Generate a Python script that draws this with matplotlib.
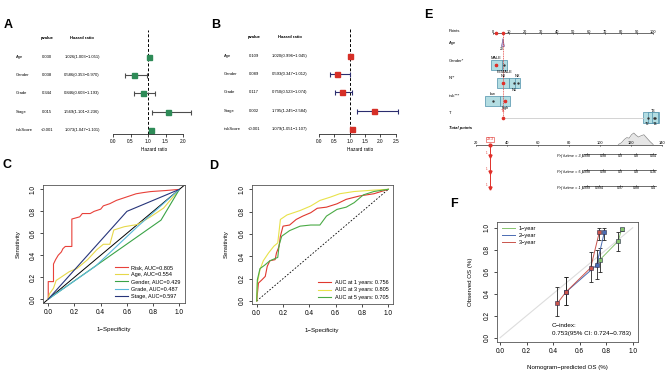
import numpy as np
import matplotlib
matplotlib.use('Agg')
import matplotlib.pyplot as plt
from matplotlib import transforms
from matplotlib.patches import Rectangle, Polygon
from matplotlib.ticker import FormatStrFormatter

plt.rcParams['font.family'] = ['Liberation Sans', 'DejaVu Sans']
plt.rcParams['axes.linewidth'] = 0.6

# ---------------- data ----------------
# A / B  forest plots (uni / multi cox)
forest_vars = ['Age', 'Gender', 'Grade', 'Stage', 'riskScore']
uni_p = ['0.030', '0.038', '0.344', '0.015', '<0.001']
uni_hr = [1.026, 0.586, 0.846, 1.569, 1.073]
uni_lo = [1.003, 0.353, 0.603, 1.101, 1.047]
uni_hi = [1.051, 0.970, 1.193, 2.236, 1.101]
multi_p = ['0.109', '0.089', '0.117', '0.002', '<0.001']
multi_hr = [1.020, 0.593, 0.750, 1.795, 1.079]
multi_lo = [0.996, 0.347, 0.523, 1.245, 1.051]
multi_hi = [1.045, 1.012, 1.074, 2.584, 1.107]
hr_ticks_a = [0.0, 0.5, 1.0, 1.5, 2.0]
hr_ticks_b = [0.0, 0.5, 1.0, 1.5, 2.0, 2.5]

# C  ROC of clinical features
risk_fpr = [0, 0, 0.04, 0.04, 0.056, 0.076, 0.10, 0.112, 0.13, 0.18, 0.18, 0.24, 0.26, 0.32, 0.35,
            0.40, 0.42, 0.47, 0.52, 0.57, 0.62, 0.67, 0.72, 0.78, 0.90, 1.0]
risk_tpr = [0, 0.16, 0.16, 0.32, 0.36, 0.40, 0.43, 0.46, 0.48, 0.48, 0.73, 0.75, 0.78, 0.78, 0.80,
            0.82, 0.85, 0.87, 0.90, 0.92, 0.94, 0.96, 0.97, 0.98, 0.99, 1.0]
age_fpr = [0, 0.01, 0.04, 0.06, 0.11, 0.16, 0.22, 0.30, 0.37, 0.42, 0.47, 0.50, 0.58, 0.68, 0.78, 0.88, 1.0]
age_tpr = [0, 0.05, 0.10, 0.17, 0.21, 0.25, 0.28, 0.36, 0.45, 0.50, 0.50, 0.63, 0.66, 0.68, 0.75, 0.83, 1.0]
gender_fpr = [0, 0.86, 1.0]
gender_tpr = [0, 0.72, 1.0]
grade_fpr = [0, 0.36, 0.68, 1.0]
grade_tpr = [0, 0.30, 0.66, 1.0]
stage_fpr = [0, 0.60, 1.0]
stage_tpr = [0, 0.80, 1.0]
roc_c_labels = ['Risk, AUC=0.805', 'Age, AUC=0.554', 'Gender, AUC=0.429',
                'Grade, AUC=0.487', 'Stage, AUC=0.597']

# D  time dependent ROC
y1_fpr = [0, 0.013, 0.04, 0.065, 0.08, 0.10, 0.14, 0.15, 0.17, 0.18, 0.20, 0.25, 0.30, 0.35, 0.41,
          0.46, 0.53, 0.61, 0.68, 0.78, 0.89, 1.0]
y1_tpr = [0, 0.16, 0.19, 0.22, 0.31, 0.36, 0.37, 0.43, 0.49, 0.58, 0.67, 0.68, 0.73, 0.76, 0.79,
          0.83, 0.84, 0.87, 0.91, 0.94, 0.96, 1.0]
y3_fpr = [0, 0.005, 0.025, 0.05, 0.09, 0.13, 0.16, 0.18, 0.23, 0.33, 0.41, 0.48, 0.56, 0.63, 0.74, 0.86, 1.0]
y3_tpr = [0, 0.16, 0.28, 0.36, 0.43, 0.49, 0.52, 0.73, 0.77, 0.81, 0.85, 0.90, 0.93, 0.96, 0.98, 0.99, 1.0]
y5_fpr = [0, 0.005, 0.025, 0.06, 0.10, 0.16, 0.17, 0.19, 0.25, 0.33, 0.41, 0.48, 0.53, 0.61, 0.68,
          0.74, 0.81, 0.89, 1.0]
y5_tpr = [0, 0.19, 0.29, 0.32, 0.36, 0.39, 0.50, 0.58, 0.63, 0.67, 0.68, 0.68, 0.76, 0.82, 0.84,
          0.88, 0.95, 0.98, 1.0]
roc_d_labels = ['AUC at 1 years: 0.756', 'AUC at 3 years: 0.805', 'AUC at 5 years: 0.705']

# E  nomogram
age_pt = 6.4
gender_lv = ['MALE', 'FEMALE']
gender_pts = [2.2, 7.2]
gender_share = [0.52, 0.25]
n_lv = ['N0', 'N1', 'NX']
n_pts = [6.6, 13.1, 15.5]
n_share = [0.58, 0.43, 0.20]
risk_lv = ['low', 'high']
risk_pts = [0.0, 7.7]
risk_share = [0.70, 0.50]
t_lv = ['T1', 'T2', 'T3', 'T4']
t_pts = [6.5, 96.5, 100.2, 101.2]
t_share = [0.0, 0.45, 0.55, 0.30]
total_pt = 29.3
dens_x = [112, 114, 116, 117.5, 119, 120.5, 122, 123.5, 125, 126.5, 128.5, 130.5, 132.5, 134.5]
dens_y = [0, 0.15, 0.45, 0.60, 0.55, 0.85, 1.0, 0.80, 0.65, 0.75, 0.85, 0.55, 0.25, 0]
pr_names = ['Pr( futime = 3 )', 'Pr( futime = 5 )', 'Pr( futime = 1 )']
pr_labels = [['0.998', '0.98', '0.9', '0.8', '0.04'],
             ['0.998', '0.98', '0.9', '0.8', '0.36'],
             ['0.999', '0.994', '0.97', '0.88', '0.4']]
pr_at = [[91.6, 102.3, 113.1, 123.4, 134.6],
         [91.6, 102.3, 113.1, 123.4, 134.6],
         [91.6, 99.5, 113.1, 123.4, 134.6]]

# F  calibration
cal1_x = [0.754, 0.891, 0.917]
cal1_y = [0.710, 0.879, 0.990]
cal1_lo = [0.60, 0.79, 0.97]
cal1_hi = [0.82, 0.96, 1.00]
cal2_x = [0.495, 0.728, 0.786]
cal2_y = [0.413, 0.660, 0.958]
cal2_lo = [0.30, 0.535, 0.89]
cal2_hi = [0.555, 0.80, 1.00]
cal3_x = [0.432, 0.495, 0.683, 0.748]
cal3_y = [0.313, 0.413, 0.636, 0.958]
cal3_lo = [0.20, 0.30, 0.51, 0.89]
cal3_hi = [0.465, 0.555, 0.78, 1.00]

# ---------------- figure ----------------
W, H = 668, 373
fig = plt.figure(figsize=(W / 100, H / 100), dpi=100)


def add_px(x0, y0, x1, y1):
    return fig.add_axes([x0 / W, 1 - y1 / H, (x1 - x0) / W, (y1 - y0) / H])


def letter(x, y, s):
    fig.text(x / W, 1 - y / H, s, ha='center', va='center', fontsize=9, fontweight='bold')


def forest(x0, xr, ppu, row0, y_top, y_axis, cols, pv, hr, lo, hi, ticks, sq_col, bar_col):
    step = 18.2
    ax = add_px(x0, y_top, xr, y_axis)
    ax.set_xlim(0, (xr - x0) / ppu)
    ax.set_ylim(-(y_axis - row0) / step, (row0 - y_top) / step)
    hr, lo, hi = np.array(hr), np.array(lo), np.array(hi)
    yy = -np.arange(len(hr))
    ax.axvline(1, color='black', ls=(0, (3, 2)), lw=0.7)
    ax.errorbar(hr, yy, xerr=[hr - lo, hi - hr], fmt='none', ecolor=bar_col,
                elinewidth=0.8, capsize=1.8, capthick=0.8)
    ax.plot(hr, yy, 's', color=sq_col, ms=3.6, ls='none')
    for s in ['top', 'right', 'left']:
        ax.spines[s].set_visible(False)
    ax.spines['bottom'].set_bounds(ticks[0], ticks[-1])
    ax.spines['bottom'].set_linewidth(0.5)
    ax.set_xticks(ticks)
    ax.set_xticklabels(['%.1f' % t for t in ticks])
    ax.tick_params(axis='x', labelsize=3.4, length=2, width=0.5, pad=1.5)
    ax.set_yticks([])
    ax.set_xlabel('Hazard ratio', fontsize=3.4, labelpad=2)
    ax.patch.set_alpha(0)
    tr = transforms.blended_transform_factory(fig.transFigure, ax.transData)
    hdr = 19 / step
    ax.text(cols[1] / W, hdr, 'pvalue', transform=tr, ha='center', va='center', fontsize=3, fontweight='bold')
    ax.text(cols[2] / W, hdr, 'Hazard ratio', transform=tr, ha='center', va='center', fontsize=3, fontweight='bold')
    for i, v in enumerate(forest_vars):
        ax.text(cols[0] / W, yy[i], v, transform=tr, ha='left', va='center', fontsize=3)
        ax.text(cols[1] / W, yy[i], pv[i], transform=tr, ha='center', va='center', fontsize=3)
        ax.text(cols[2] / W, yy[i], '%.3f(%.3f\u2212%.3f)' % (hr[i], lo[i], hi[i]),
                transform=tr, ha='center', va='center', fontsize=3)
    return ax


def r_axes(x0, y0, x1, y1, xlim, ylim):
    ax = add_px(x0, y0, x1, y1)
    ax.set_xlim(*xlim)
    ax.set_ylim(*ylim)
    ticks = np.arange(0, 1.01, 0.2)
    ax.set_xticks(ticks)
    ax.set_yticks(ticks)
    ax.xaxis.set_major_formatter(FormatStrFormatter('%.1f'))
    ax.yaxis.set_major_formatter(FormatStrFormatter('%.1f'))
    ax.tick_params(labelsize=4.7, length=2.5, width=0.5, pad=2, direction='out')
    ax.tick_params(axis='y', labelrotation=90)
    plt.setp(ax.get_yticklabels(), va='center')
    for s in ax.spines.values():
        s.set_color('#555555')
    return ax


# A
letter(8, 25, 'A')
forest(113, 196, 35.0, 57, 30, 134, (16, 47, 82), uni_p, uni_hr, uni_lo, uni_hi,
       hr_ticks_a, '#2e8b57', '#4d4d4d')
# B
letter(216, 25, 'B')
forest(319, 401, 30.7, 56, 29, 134, (224, 254, 290), multi_p, multi_hr, multi_lo, multi_hi,
       hr_ticks_b, '#d62f27', '#2b2d6e')

# C
letter(7, 165, 'C')
axc = r_axes(43, 185, 185, 303, (-0.04, 1.043), (-0.035, 1.04))
axc.axline((0, 0), (1, 1), color='black', lw=0.7)
c_cols = ['#e8413a', '#e6d84a', '#3aa346', '#5bb8dc', '#27357a']
for fx, ty, col, lab in zip([risk_fpr, age_fpr, gender_fpr, grade_fpr, stage_fpr],
                            [risk_tpr, age_tpr, gender_tpr, grade_tpr, stage_tpr],
                            c_cols, roc_c_labels):
    axc.plot(fx, ty, color=col, lw=0.8, label=lab)
axc.legend(loc='lower right', bbox_to_anchor=(1.0, 0.0), frameon=False, fontsize=4,
           handlelength=2.4, handletextpad=0.6, labelspacing=0.38, borderpad=0.3)
axc.set_xlabel('1\u2212Specificity', fontsize=4.4)
axc.set_ylabel('Sensitivity', fontsize=4.4)
axc.xaxis.set_label_coords(0.5, -0.2)
axc.yaxis.set_label_coords(-0.158, 0.5)

# D
letter(214, 166, 'D')
axd = r_axes(251.7, 184.7, 392.7, 304, (-0.038, 1.033), (-0.027, 1.041))
axd.plot([0, 1], [0, 1], color='black', lw=0.6, ls=(0, (2, 2)))
d_cols = ['#e0382e', '#e8e24a', '#4aaa45']
for fx, ty, col, lab in zip([y1_fpr, y3_fpr, y5_fpr], [y1_tpr, y3_tpr, y5_tpr], d_cols, roc_d_labels):
    axd.plot(fx, ty, color=col, lw=0.8, label=lab)
axd.legend(loc='lower right', bbox_to_anchor=(1.0, 0.0), frameon=False, fontsize=4,
           handlelength=2.4, handletextpad=0.6, labelspacing=0.38, borderpad=0.3)
axd.set_xlabel('1\u2212Specificity', fontsize=4.4)
axd.set_ylabel('Sensitivity', fontsize=4.4)
axd.xaxis.set_label_coords(0.5, -0.2)
axd.yaxis.set_label_coords(-0.165, 0.5)

# E  nomogram: upper scale in points, lower scale in total points
letter(428, 15, 'E')
fs_e = 3.0
axe = add_px(440, 20, 668, 195)
axe.set_xlim(-32.8, 109.2)
axe.set_ylim(195, 20)
axe.axis('off')
axt = add_px(440, 20, 668, 195)
axt.set_xlim(20 - 35.7 / 1.55, 140 + 6.3 / 1.55)
axt.set_ylim(195, 20)
axt.axis('off')
lab_tr = transforms.blended_transform_factory(fig.transFigure, axe.transData)
row_y = {'Points': 31.5, 'Age': 43, 'Gender*': 61, 'N**': 78, 'risk***': 96, 'T': 113}
for name, yv in row_y.items():
    axe.text(449 / W, yv, name, transform=lab_tr, ha='left', va='center', fontsize=fs_e)
axe.text(449 / W, 128, 'Total points', transform=lab_tr, ha='left', va='center',
         fontsize=fs_e, fontweight='bold', fontstyle='italic')

pts_ticks = np.arange(0, 101, 10)
axe.plot([0, 100], [33, 33], color='#333333', lw=0.5)
for t in pts_ticks:
    axe.plot([t, t], [33, 34.3], color='#333333', lw=0.4)
    axe.text(t, 32, '%d' % t, ha='center', va='center', fontsize=2.8)

# patient line and points on scale
axe.plot([6.4, 6.4], [33, 118], color='#e0302a', lw=0.5, ls=(0, (1.5, 1)))
for p in sorted(set([2.2, 6.6])):
    axe.plot(p, 33, 'o', color='#e0302a', ms=1.6)

# age violin
axe.add_patch(Polygon([[age_pt - 0.9, 46.5], [age_pt + 0.9, 46.5], [age_pt, 38.5]],
                      closed=True, fc='#c8b6e2', ec='#5b4a8a', lw=0.4))
axe.text(age_pt - 0.8, 49.3, '20', ha='center', va='center', fontsize=2.4)


def level_boxes(ypos, lv, pts, share, sel):
    for i, (l, p, s) in enumerate(zip(lv, pts, share)):
        w = s * 13
        if w > 0:
            axe.add_patch(Rectangle((p - w / 2, ypos - 5.3), w, 10.6, fc='#b3dde2',
                                    ec='#4e90aa', lw=0.5))
            axe.plot(p, ypos, 'o', color='#333333', ms=0.7)
        dy = -6.8 if i % 2 == 0 else 6.8
        axe.text(p, ypos + dy, l, ha='center', va='center', fontsize=2.8,
                 color='#e0302a' if (l == sel and w == 0) else 'black')
        if l == sel:
            axe.plot(p, ypos, 'o', color='#e0302a', ms=1.6)


level_boxes(65, gender_lv, gender_pts, gender_share, 'MALE')
level_boxes(83, n_lv, n_pts, n_share, 'N0')
level_boxes(101, risk_lv, risk_pts, risk_share, 'high')
axe.plot([t_pts[0], 94], [117.5, 117.5], color='#cccccc', lw=0.6)
level_boxes(117.5, t_lv, t_pts, t_share, 'T1')

# total points scale
tot_ticks = np.arange(20, 141, 20)
axt.fill_between(dens_x, 144.5, 144.5 - np.array(dens_y) * 11.5, color='#e6e6e6', lw=0)
axt.plot(dens_x, 144.5 - np.array(dens_y) * 11.5, color='#888888', lw=0.5)
axt.plot([20, 140], [144.5, 144.5], color='#333333', lw=0.5)
for t in tot_ticks:
    axt.plot([t, t], [144.5, 145.8], color='#333333', lw=0.4)
    axt.text(t, 143.5, '%d' % t, ha='center', va='center', fontsize=2.8)
axt.plot([total_pt, total_pt], [144.5, 188], color='#e0302a', lw=0.7)
axt.plot(total_pt, 144.5, 'o', color='#e0302a', ms=2)
axt.text(total_pt, 139.5, '%.1f' % total_pt, ha='center', va='center', fontsize=2.6, color='#e0302a',
         bbox=dict(boxstyle='square,pad=0.15', fc='white', ec='#e0302a', lw=0.4))
for k, (nm, labs, ats) in enumerate(zip(pr_names, pr_labels, pr_at)):
    yv = 154 + 16 * k
    axt.plot(total_pt, yv + 1.5, 'v', color='#e0302a', ms=2.2)
    axt.text(total_pt - 2.5, yv - 1.5, '1', ha='center', va='center', fontsize=2.2, color='#e0302a')
    axt.text(89.2, yv + 1.5, nm, ha='right', va='center', fontsize=2.8, fontstyle='italic')
    axt.plot([ats[0] - 2, ats[-1] + 2], [yv, yv], color='#333333', lw=0.5)
    for a, l in zip(ats, labs):
        axt.plot([a, a], [yv, yv - 1.2], color='#333333', lw=0.4)
        axt.text(a, yv + 2.3, l, ha='center', va='center', fontsize=2.6)

# F
letter(454, 204, 'F')
axf = add_px(497, 221.7, 638, 341.7)
axf.set_xlim(-0.023, 1.04)
axf.set_ylim(-0.036, 1.055)
ticks = np.arange(0, 1.01, 0.2)
axf.set_xticks(ticks)
axf.set_yticks(ticks)
axf.xaxis.set_major_formatter(FormatStrFormatter('%.1f'))
axf.yaxis.set_major_formatter(FormatStrFormatter('%.1f'))
axf.tick_params(labelsize=4.7, length=2.5, width=0.5, pad=2, direction='out')
axf.tick_params(axis='y', labelrotation=90)
plt.setp(axf.get_yticklabels(), va='center')
for s in axf.spines.values():
    s.set_color('#555555')
axf.plot([0, 1], [0, 1], color='#dddddd', lw=0.8)
f_cols = ['#86c46e', '#4a6cb3', '#c9544c']
for xs, ys, lo, hi, col, lab in [(cal1_x, cal1_y, cal1_lo, cal1_hi, f_cols[0], '1\u2212year'),
                                 (cal2_x, cal2_y, cal2_lo, cal2_hi, f_cols[1], '2\u2212year'),
                                 (cal3_x, cal3_y, cal3_lo, cal3_hi, f_cols[2], '3\u2212year')]:
    ys_a = np.array(ys)
    axf.plot(xs, ys, color=col, lw=0.7, label=lab)
    axf.errorbar(xs, ys, yerr=[ys_a - np.array(lo), np.array(hi) - ys_a], fmt='none',
                 ecolor='#222222', elinewidth=0.6, capsize=1.4, capthick=0.6)
    axf.plot(xs, ys, 's', color=col, mec='#2a2a4a', mew=0.4, ms=2.2, ls='none')
axf.legend(loc='upper left', bbox_to_anchor=(0.0, 1.0), frameon=False, fontsize=4.1,
           handlelength=2.3, handletextpad=0.7, labelspacing=0.3, borderpad=0.3)
axf.text(0.39, 0.109, 'C\u2212index:', ha='left', va='center', fontsize=4.5)
axf.text(0.39, 0.04, '0.753(95% CI: 0.724\u22120.783)', ha='left', va='center', fontsize=4.5)
axf.set_xlabel('Nomogram\u2212predicted OS (%)', fontsize=4.4)
axf.set_ylabel('Observed OS (%)', fontsize=4.4)
axf.xaxis.set_label_coords(0.5, -0.198)
axf.yaxis.set_label_coords(-0.167, 0.5)

fig.savefig('out.png', dpi=100)
